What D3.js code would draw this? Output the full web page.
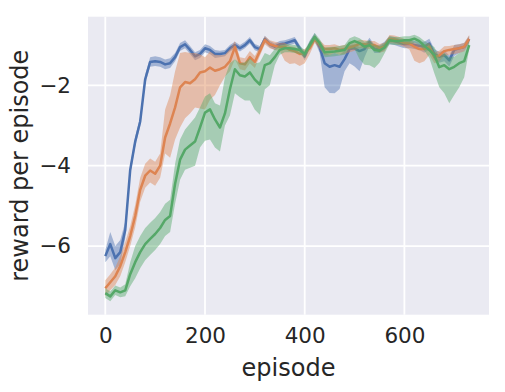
<!DOCTYPE html>
<html>
<head>
<meta charset="utf-8">
<style>
  body { margin: 0; background: #fff; }
  text { font-family: "DejaVu Sans", sans-serif; fill: #262626; }
</style>
<script src="https://cdn.jsdelivr.net/npm/d3@7"></script>
</head>
<body>
<script>
// episodes sampled every 10 steps
var episodes = d3.range(0, 740, 10);
var xTicks = [0, 200, 400, 600];
var yTicks = [-6, -4, -2];

// blue run
var blueMean = [-6.25, -5.95, -6.30, -6.15, -5.6, -4.1, -3.4, -2.9, -1.85, -1.42,
  -1.40, -1.42, -1.48, -1.45, -1.3, -1.05, -0.98, -1.12, -1.28, -1.22,
  -1.08, -1.12, -1.22, -1.22, -1.20, -1.08, -1.0, -1.08, -1.0, -0.88,
  -1.05, -1.1, -0.85, -0.98, -1.04, -0.98, -0.96, -0.92, -0.88, -1.08,
  -1.28, -1.0, -0.8, -1.05, -1.45, -1.54, -1.5, -1.54, -1.35, -1.1,
  -1.08, -1.15, -1.1, -0.92, -1.1, -1.1, -1.02, -0.88, -0.9, -0.94,
  -0.98, -0.97, -1.0, -1.02, -1.04, -0.96, -1.22, -1.29, -1.25, -1.38,
  -1.12, -1.08, -1.05, -0.85];
var blueLo = [0.15, 0.3, 0.3, 0.3, 0.2, 0.12, 0.12, 0.12, 0.12, 0.12,
  0.12, 0.12, 0.12, 0.12, 0.1, 0.1, 0.1, 0.1, 0.1, 0.1,
  0.1, 0.1, 0.1, 0.08, 0.08, 0.08, 0.08, 0.08, 0.08, 0.08,
  0.08, 0.08, 0.08, 0.08, 0.08, 0.08, 0.08, 0.08, 0.08, 0.08,
  0.1, 0.1, 0.1, 0.15, 0.6, 0.65, 0.7, 0.55, 0.3, 0.35,
  0.45, 0.5, 0.2, 0.1, 0.1, 0.1, 0.1, 0.1, 0.1, 0.1,
  0.1, 0.1, 0.1, 0.1, 0.15, 0.15, 0.15, 0.15, 0.15, 0.15,
  0.15, 0.12, 0.1, 0.08];
var blueHi = [0.15, 0.3, 0.3, 0.3, 0.2, 0.12, 0.12, 0.12, 0.12, 0.12,
  0.12, 0.12, 0.12, 0.12, 0.1, 0.1, 0.1, 0.1, 0.1, 0.1,
  0.1, 0.1, 0.1, 0.08, 0.08, 0.08, 0.08, 0.08, 0.08, 0.08,
  0.08, 0.08, 0.08, 0.08, 0.08, 0.08, 0.08, 0.08, 0.08, 0.08,
  0.1, 0.1, 0.1, 0.12, 0.25, 0.3, 0.3, 0.3, 0.2, 0.1,
  0.1, 0.1, 0.1, 0.1, 0.1, 0.1, 0.1, 0.1, 0.1, 0.1,
  0.1, 0.1, 0.1, 0.1, 0.12, 0.12, 0.12, 0.12, 0.12, 0.12,
  0.12, 0.1, 0.1, 0.08];

// orange run
var orangeMean = [-7.05, -6.9, -6.75, -6.5, -6.15, -5.75, -5.25, -4.6, -4.25, -4.12,
  -4.2, -4.0, -3.3, -2.95, -2.55, -2.05, -1.92, -1.95, -1.85, -1.68,
  -1.65, -1.56, -1.64, -1.6, -1.54, -1.4, -1.05, -1.45, -1.48, -1.3,
  -1.42, -1.15, -0.88, -0.98, -1.02, -1.05, -1.04, -1.12, -1.15, -1.22,
  -1.2, -1.08, -0.85, -0.98, -1.1, -1.1, -1.08, -1.12, -1.1, -1.06,
  -1.02, -0.97, -0.98, -1.0, -1.0, -1.07, -1.04, -0.85, -0.86, -0.9,
  -0.95, -0.96, -1.04, -1.1, -1.1, -1.04, -1.3, -1.26, -1.15, -1.12,
  -1.1, -1.08, -1.04, -0.85];
var orangeLo = [0.2, 0.2, 0.22, 0.25, 0.25, 0.25, 0.28, 0.3, 0.3, 0.3,
  0.3, 0.3, 0.4, 0.85, 0.8, 1.0, 0.9, 0.75, 0.7, 0.9,
  0.95, 0.8, 0.6, 0.4, 0.25, 0.25, 0.3, 0.15, 0.15, 0.15,
  0.15, 0.12, 0.1, 0.1, 0.1, 0.1, 0.35, 0.35, 0.3, 0.3,
  0.25, 0.15, 0.1, 0.12, 0.15, 0.15, 0.12, 0.12, 0.12, 0.12,
  0.12, 0.1, 0.1, 0.1, 0.1, 0.12, 0.12, 0.1, 0.1, 0.1,
  0.1, 0.15, 0.35, 0.35, 0.3, 0.2, 0.15, 0.15, 0.12, 0.12,
  0.12, 0.12, 0.12, 0.1];
var orangeHi = [0.2, 0.2, 0.22, 0.25, 0.25, 0.25, 0.28, 0.3, 0.3, 0.3,
  0.3, 0.3, 0.7, 0.7, 0.9, 0.85, 0.75, 0.75, 0.65, 0.45,
  0.35, 0.4, 0.4, 0.35, 0.3, 0.3, 0.15, 0.15, 0.15, 0.15,
  0.15, 0.12, 0.1, 0.1, 0.1, 0.1, 0.1, 0.1, 0.1, 0.1,
  0.1, 0.1, 0.1, 0.1, 0.1, 0.1, 0.1, 0.1, 0.1, 0.1,
  0.1, 0.1, 0.1, 0.1, 0.1, 0.1, 0.1, 0.1, 0.1, 0.1,
  0.1, 0.1, 0.1, 0.1, 0.1, 0.1, 0.12, 0.12, 0.12, 0.1,
  0.1, 0.1, 0.1, 0.1];

// green run
var greenMean = [-7.17, -7.25, -7.1, -7.15, -7.1, -6.7, -6.4, -6.15, -5.95, -5.82,
  -5.7, -5.55, -5.35, -5.25, -4.45, -3.85, -3.6, -3.5, -3.4, -3.05,
  -2.68, -2.6, -2.85, -3.05, -2.7, -2.1, -1.6, -1.75, -1.78, -1.68,
  -1.86, -1.98, -1.5, -1.45, -1.3, -1.12, -1.08, -1.08, -1.1, -1.12,
  -1.22, -1.0, -0.8, -0.95, -1.18, -1.17, -1.16, -1.14, -1.12, -0.95,
  -0.9, -0.95, -1.04, -1.0, -1.12, -1.14, -1.06, -0.88, -0.9, -0.9,
  -0.88, -0.88, -0.84, -0.9, -1.02, -1.12, -1.25, -1.55, -1.5, -1.6,
  -1.54, -1.45, -1.4, -1.0];
var greenLo = [0.12, 0.12, 0.12, 0.12, 0.15, 0.3, 0.4, 0.4, 0.4, 0.4,
  0.4, 0.4, 0.4, 0.4, 0.5, 0.5, 0.5, 0.55, 0.6, 0.5,
  0.7, 0.75, 0.7, 0.6, 0.3, 0.65, 0.6, 0.55, 0.6, 0.7,
  0.75, 0.75, 0.6, 0.55, 0.2, 0.12, 0.1, 0.1, 0.1, 0.1,
  0.1, 0.1, 0.1, 0.1, 0.12, 0.12, 0.12, 0.12, 0.12, 0.15,
  0.2, 0.4, 0.45, 0.5, 0.45, 0.3, 0.15, 0.1, 0.1, 0.1,
  0.1, 0.1, 0.1, 0.1, 0.12, 0.2, 0.45, 0.5, 0.7, 0.85,
  0.7, 0.6, 0.4, 0.1];
var greenHi = [0.12, 0.12, 0.12, 0.12, 0.15, 0.3, 0.4, 0.4, 0.4, 0.4,
  0.4, 0.4, 0.4, 0.4, 0.5, 0.5, 0.5, 0.55, 0.6, 0.5,
  0.4, 0.4, 0.4, 0.55, 0.9, 0.65, 0.25, 0.3, 0.35, 0.35,
  0.4, 0.55, 0.3, 0.2, 0.2, 0.12, 0.1, 0.1, 0.1, 0.1,
  0.1, 0.1, 0.1, 0.1, 0.12, 0.12, 0.12, 0.12, 0.12, 0.12,
  0.12, 0.12, 0.12, 0.12, 0.12, 0.12, 0.12, 0.1, 0.1, 0.1,
  0.1, 0.1, 0.1, 0.1, 0.12, 0.15, 0.2, 0.25, 0.3, 0.3,
  0.25, 0.25, 0.25, 0.1];

var w = 505, h = 392;
var margin = { top: 16.7, right: 16, bottom: 77.3, left: 88 };
var iw = w - margin.left - margin.right,
    ih = h - margin.top - margin.bottom;

var svg = d3.select("body").append("svg")
    .attr("width", w)
    .attr("height", h);

var g = svg.append("g")
    .attr("transform", "translate(" + margin.left + "," + margin.top + ")");

var x = d3.scaleLinear().domain([-34.7, 769.7]).range([0, iw]);
var y = d3.scaleLinear().domain([-7.707, -0.294]).range([ih, 0]);

g.append("rect")
    .attr("width", iw)
    .attr("height", ih)
    .attr("fill", "#eaeaf2");

// grid
g.selectAll(".gx").data(xTicks).enter().append("line")
    .attr("x1", function (d) { return x(d); })
    .attr("x2", function (d) { return x(d); })
    .attr("y1", 0).attr("y2", ih)
    .attr("stroke", "#fff").attr("stroke-width", 1.8);
g.selectAll(".gy").data(yTicks).enter().append("line")
    .attr("y1", function (d) { return y(d); })
    .attr("y2", function (d) { return y(d); })
    .attr("x1", 0).attr("x2", iw)
    .attr("stroke", "#fff").attr("stroke-width", 1.8);

var series = [
    { mean: blueMean, lo: blueLo, hi: blueHi, color: "#4c72b0" },
    { mean: orangeMean, lo: orangeLo, hi: orangeHi, color: "#dd8452" },
    { mean: greenMean, lo: greenLo, hi: greenHi, color: "#55a868" }
];

var area = d3.area()
    .x(function (d) { return x(d.ep); })
    .y0(function (d) { return y(d.m - d.lo); })
    .y1(function (d) { return y(d.m + d.hi); });
var line = d3.line()
    .x(function (d) { return x(d.ep); })
    .y(function (d) { return y(d.m); });

series.forEach(function (s) {
    var pts = episodes.map(function (ep, i) {
        return { ep: ep, m: s.mean[i], lo: s.lo[i], hi: s.hi[i] };
    });
    g.append("path").datum(pts)
        .attr("d", area)
        .attr("fill", s.color)
        .attr("fill-opacity", 0.45);
    g.append("path").datum(pts)
        .attr("d", line)
        .attr("fill", "none")
        .attr("stroke", s.color)
        .attr("stroke-width", 2.5)
        .attr("stroke-linejoin", "round");
});

// axes
var xAxis = g.append("g")
    .attr("transform", "translate(0," + ih + ")")
    .call(d3.axisBottom(x).tickValues(xTicks).tickSize(0).tickPadding(13));
var yAxis = g.append("g")
    .call(d3.axisLeft(y).tickValues(yTicks).tickSize(0).tickPadding(17));
[xAxis, yAxis].forEach(function (a) {
    a.select(".domain").remove();
    a.selectAll("text")
        .attr("font-family", "DejaVu Sans, sans-serif")
        .attr("font-size", "21.5px")
        .attr("fill", "#262626");
});

svg.append("text")
    .attr("text-anchor", "middle")
    .attr("x", margin.left + iw / 2)
    .attr("y", 376)
    .attr("font-size", "24px")
    .text("episode");

svg.append("text")
    .attr("text-anchor", "middle")
    .attr("transform", "translate(28," + (margin.top + ih / 2) + ") rotate(-90)")
    .attr("font-size", "24px")
    .text("reward per episode");
</script>
</body>
</html>
